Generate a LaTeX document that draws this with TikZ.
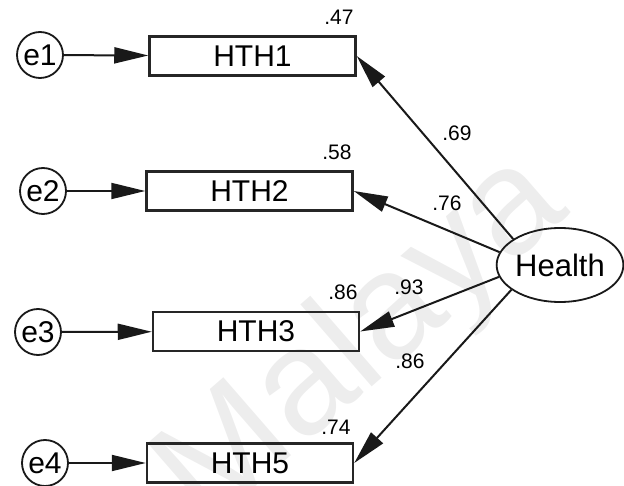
\documentclass[tikz,border=0pt]{standalone}
\usepackage{fontspec}
\setmainfont{Liberation Sans}
\usetikzlibrary{arrows.meta,shapes.geometric}
\begin{document}
\begin{tikzpicture}[x=1pt,y=-1pt,
  obs/.style={draw=black!85, line width=2.5pt, minimum width=206pt, minimum height=39pt, inner sep=0pt, font=\fontsize{30}{32}\selectfont},
  err/.style={circle, draw=black!90, line width=1.8pt, minimum size=46pt, inner sep=0pt, font=\fontsize{30}{32}\selectfont},
  lat/.style={ellipse, draw=black!90, line width=1.8pt, minimum width=126pt, minimum height=74pt, inner sep=0pt, font=\fontsize{31}{33}\selectfont},
  reg/.style={-{Triangle[length=34pt,width=16pt]}, line width=2pt, black!90},
  lbl/.style={font=\fontsize{21}{22}\selectfont, inner sep=0pt},
  wm/.style={text=black!7, font=\fontsize{150}{150}\selectfont}]
\useasboundingbox (0,0) rectangle (624,486);
\begin{scope}
\clip (0,0) rectangle (624,486);
\node[wm, rotate=41] (mark) at (364,342) {Malaya};
\end{scope}
\node[obs] (HTH1) at (252.5,56) {HTH1};
\node[obs] (HTH2) at (249.5,191) {HTH2};
\node[obs] (HTH3) at (256,331.5) {HTH3};
\node[obs] (HTH5) at (250,463) {HTH5};
\node[err] (e1) at (40,55) {e1};
\node[err] (e2) at (43,191) {e2};
\node[err] (e3) at (38,332) {e3};
\node[err] (e4) at (45,463) {e4};
\node[lat] (H) at (560,265) {Health};
\draw[reg] (e1) -- (HTH1);
\draw[reg] (e2) -- (HTH2);
\draw[reg] (e3) -- (HTH3);
\draw[reg] (e4) -- (HTH5);
\draw[reg] (H.151) -- (HTH1.east);
\draw[reg] (H.168) -- (HTH2.east);
\draw[reg] (H.191) -- (HTH3.east);
\draw[reg] (H.207) -- (HTH5.east);
\node[lbl] (r1) at (339,17) {.47};
\node[lbl] (r2) at (337,152) {.58};
\node[lbl] (r3) at (343,292) {.86};
\node[lbl] (r5) at (336,427) {.74};
\node[lbl] (l1) at (457,133) {.69};
\node[lbl] (l2) at (447,203) {.76};
\node[lbl] (l3) at (409,287) {.93};
\node[lbl] (l5) at (410,361) {.86};
\end{tikzpicture}
\end{document}
